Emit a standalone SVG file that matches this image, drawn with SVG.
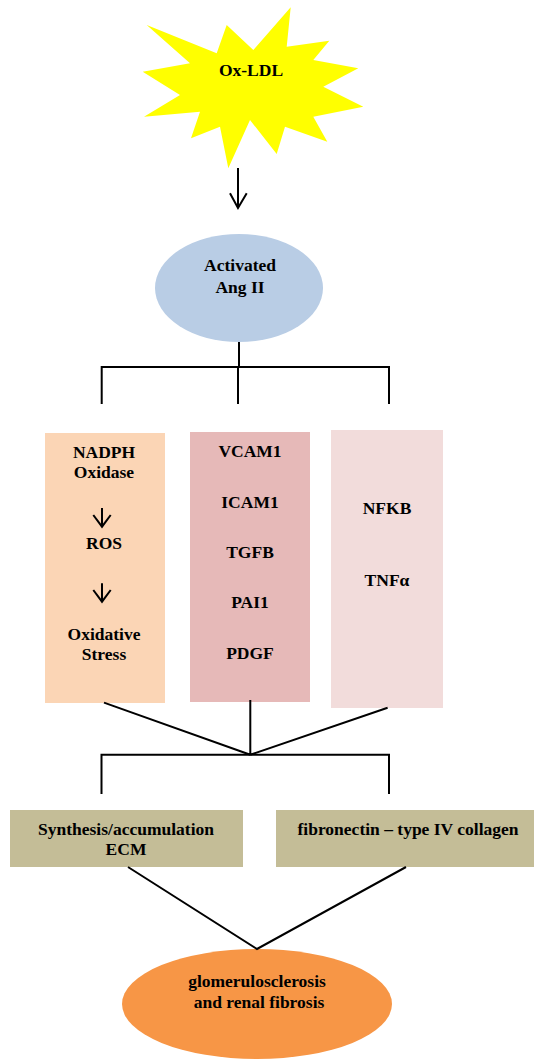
<svg xmlns="http://www.w3.org/2000/svg" width="534" height="1060" viewBox="0 0 534 1060">
<style>
text{font-family:"Liberation Serif","Times New Roman",serif;font-weight:bold;font-size:17.5px;fill:#000;text-anchor:middle}
.ln{stroke:#000;stroke-width:2;fill:none}
</style>
<rect width="534" height="1060" fill="#fff"/>
<g id="oxldl">
<polygon fill="#ffff00" points="146.7,25 216.7,53.3 226.7,25 253.3,50 290.7,7.3 286.7,46.7 329.3,40.7 313.3,60 358.3,68.3 323.3,86.7 363.3,106.7 313.3,116.7 327.3,141.7 285,126.7 276.7,154 250,120 228.3,168.3 220,126.7 191,138.3 200,111.7 144,116.7 180,95 142.7,71.7 190,63.3"/>
<text x="251" y="76">Ox-LDL</text>
</g>
<g id="angii">
<ellipse cx="239" cy="288" rx="84" ry="54" fill="#b9cde5"/>
<text x="240" y="271">Activated</text>
<text x="240" y="293">Ang II</text>
</g>
<g id="box-nadph">
<rect x="45" y="433" width="120" height="270" fill="#fbd5b5"/>
<text x="104" y="458">NADPH</text>
<text x="104" y="478">Oxidase</text>
<path class="ln" d="M102,508V526.7M93.3,515L102,526.7L110.7,515"/>
<text x="104" y="549">ROS</text>
<path class="ln" d="M102,583.3V601.7M93.3,590L102,601.7L110.7,590"/>
<text x="104" y="640">Oxidative</text>
<text x="104" y="660">Stress</text>
</g>
<g id="box-vcam">
<rect x="190" y="432" width="120" height="270" fill="#e6b9b8"/>
<text x="250" y="457">VCAM1</text>
<text x="250" y="508">ICAM1</text>
<text x="250" y="558">TGFB</text>
<text x="250" y="608">PAI1</text>
<text x="250" y="659">PDGF</text>
</g>
<g id="box-nfkb">
<rect x="331" y="430" width="112" height="278" fill="#f2dcdb"/>
<text x="387" y="514">NFKB</text>
<text x="387" y="586">TNFα</text>
</g>
<g id="box-ecm">
<rect x="10" y="810" width="233" height="57" fill="#c4bd97"/>
<text x="126" y="835">Synthesis/accumulation</text>
<text x="126" y="855">ECM</text>
</g>
<g id="box-fibronectin">
<rect x="276" y="810" width="258" height="57" fill="#c4bd97"/>
<text x="408" y="835">fibronectin – type IV collagen</text>
</g>
<g id="fibrosis">
<ellipse cx="257" cy="1004" rx="135" ry="55" fill="#f79646"/>
<text x="257" y="987">glomerulosclerosis</text>
<text x="259" y="1008">and renal fibrosis</text>
</g>
<g id="connectors">
<path class="ln" d="M238,168V208M230,193.3L238,208L246.7,193.3"/>
<path class="ln" d="M239,342V367M101.7,367H389M101.7,366V404M238,367V404M389,366V404"/>
<path class="ln" d="M104,702.6L250.3,754.7M250.3,700V754.7M387.6,707.7L250.3,754.7"/>
<path class="ln" d="M101.5,754.7H389M101.5,753.7V794M389,753.7V794"/>
<path class="ln" d="M128,867L257,949L406,867"/>
</g>
</svg>
